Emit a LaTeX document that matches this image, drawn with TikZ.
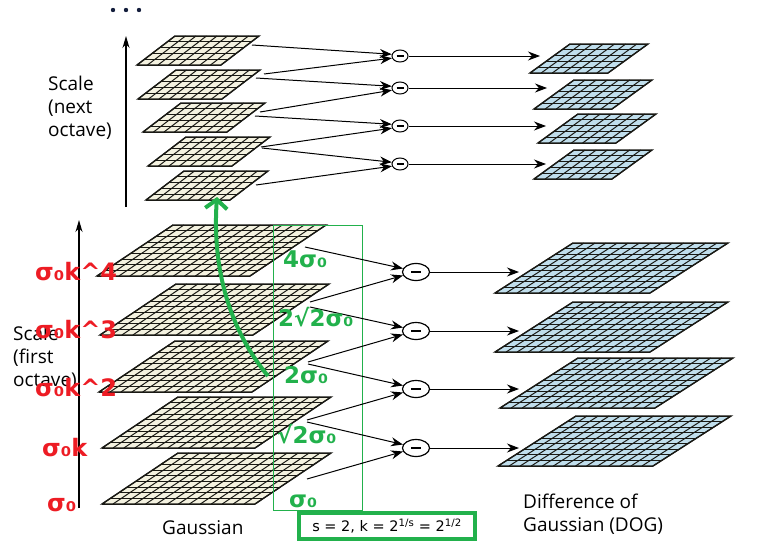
\documentclass[tikz,border=0pt]{standalone}
\usepackage{fontspec}
\setmainfont{Open Sans}
\newfontfamily\markfont{DejaVu Sans}
\usetikzlibrary{arrows.meta,shapes.geometric}
\definecolor{gaussfill}{RGB}{244,242,224}
\definecolor{dogfill}{RGB}{192,222,236}
\definecolor{gridline}{RGB}{25,25,20}
\definecolor{markgreen}{RGB}{34,177,76}
\definecolor{markred}{RGB}{237,28,36}
\definecolor{dotblue}{RGB}{20,30,60}
\tikzset{
  >=Stealth,
  txt/.style    ={font=\fontsize{19}{23}\selectfont, align=left, inner sep=0pt},
  sub/.style    ={draw, ellipse, line width=1.2pt, minimum width=27pt, minimum height=17pt, inner sep=0pt, fill=white},
  subs/.style   ={draw, ellipse, line width=1pt, minimum width=16pt, minimum height=12pt, inner sep=0pt, fill=white},
  arr/.style    ={-{Stealth[length=12pt,width=9pt]}, line width=1pt},
  axis/.style   ={-{Stealth[length=12pt,width=7pt]}, line width=1.4pt},
  redlbl/.style ={font=\markfont\bfseries\fontsize{24}{24}\selectfont, text=markred, inner sep=0pt, anchor=base west},
  grnlbl/.style ={font=\markfont\bfseries\fontsize{23}{23}\selectfont, text=markgreen, inner sep=0pt, anchor=base west},
  hint/.style   ={-{Straight Barb[length=9pt,width=22pt]}, markgreen, line width=4pt},
}
% #1,#2 lower left corner, #3 width, #4 slant, #5 height, #6 columns, #7 rows, #8 fill
\newcommand{\gridplane}[8]{%
  \begin{scope}[shift={(#1,#2)}, x={({#3pt/#6},0pt)}, y={({#4pt/#7},{#5pt/#7})}]
    \fill[#8] (0,0) -- (#6,0) -- (#6,#7) -- (0,#7) -- cycle;
    \foreach \i in {0,...,#6} \draw[gridline, line width=1pt] (\i,0) -- (\i,#7);
    \foreach \j in {0,...,#7} \draw[gridline, line width=1pt] (0,\j) -- (#6,\j);
    \draw[gridline, line width=1.4pt] (0,0) -- (#6,0) -- (#6,#7) -- (0,#7) -- cycle;
  \end{scope}}

\begin{document}
\begin{tikzpicture}[x=1pt, y=-1pt]
  \useasboundingbox (0,0) rectangle (762,541);
  % next octave
  \foreach \x/\y in {137/65, 138/99, 143/132, 148/166, 146/200}
    \gridplane{\x}{\y}{84}{38}{29}{8}{5}{gaussfill};
  \foreach \x/\y in {530/73, 534/109, 538/143, 534/179}
    \gridplane{\x}{\y}{78}{40}{29}{7}{5}{dogfill};
  % first octave
  \foreach \x/\y in {97/276, 100/335, 99/392, 102/448, 102/504}
    \gridplane{\x}{\y}{153}{76}{51}{14}{9}{gaussfill};
  \foreach \x/\y in {495/293, 495/352, 500/408, 498/466}
    \gridplane{\x}{\y}{155}{78}{50}{14}{9}{dogfill};

  % scale axes
  \coordinate (ta0) at (126,207); \coordinate (ta1) at (126,36);
  \coordinate (ba0) at (79,508);  \coordinate (ba1) at (79,220);
  \draw[axis] (ta0) -- (ta1);
  \draw[axis] (ba0) -- (ba1);
  \foreach \x in {113,126,139} \fill[dotblue] (\x,10) circle (2.2);

  % sigma column
  \node[draw=markgreen, line width=1pt, minimum width=89pt, minimum height=285pt, inner sep=0pt] (sbox) at (317.5,367.5) {};

  % subtractions
  \foreach \y/\n in {56/1, 88/2, 126/3, 164/4}
    \node[subs] (t\n) at (400,\y) {\rule{7pt}{2pt}};
  \foreach \y/\n in {272/1, 331/2, 389/3, 448/4}
    \node[sub] (b\n) at (416,\y) {\rule{10pt}{2.6pt}};

  \foreach \sx/\sy/\c/\a [count=\k] in {252/45/t1/168, 264/74/t1/195, 256/78/t2/168, 260/112/t2/195,
                                         255/116/t3/168, 261/147/t3/195, 262/148/t4/168, 256/185/t4/195} {
    \coordinate (tp\k) at (\sx,\sy);
    \draw[arr] (tp\k) -- (\c.\a);
  }
  \foreach \sx/\sy/\c/\a [count=\k] in {305/247/b1/165, 310/302/b1/195, 310/307/b2/165, 308/362/b2/195,
                                         308/364/b3/165, 307/420/b3/195, 307/422/b4/165, 307/479/b4/195} {
    \coordinate (bp\k) at (\sx,\sy);
    \draw[arr] (bp\k) -- (\c.\a);
  }
  \foreach \x/\n in {540/1, 547/2, 546/3, 546/4} {
    \coordinate (td\n) at (\x,0 |- t\n);
    \draw[arr] (t\n) -- (td\n);
  }
  \foreach \n in {1,...,4} {
    \coordinate (bd\n) at (519,0 |- b\n);
    \draw[arr] (b\n) -- (bd\n);
  }

  % texts
  \node[txt, anchor=west] (nxt) at (48,108) {Scale\\(next\\octave)};
  \node[txt, anchor=west] (fst) at (13,358) {Scale\\(first\\octave)};
  \node[txt, anchor=base west] (gs) at (162,534) {Gaussian};
  \node[txt, anchor=base west] (dog) at (523,531) {Difference of\\Gaussian (DOG)};

  \node[redlbl] (r4) at (35,280) {σ₀k\textasciicircum 4};
  \node[redlbl] (r3) at (35,338) {σ₀k\textasciicircum 3};
  \node[redlbl] (r2) at (35,396) {σ₀k\textasciicircum 2};
  \node[redlbl] (r1) at (42,456) {σ₀k};
  \node[redlbl] (r0) at (47,511) {σ₀};

  \node[grnlbl] (g4) at (283,267) {4σ₀};
  \node[grnlbl] (g3) at (278,326) {2√2σ₀};
  \node[grnlbl] (g2) at (284,383) {2σ₀};
  \node[grnlbl] (g1) at (277,443) {√2σ₀};
  \node[grnlbl] (g0) at (289,507) {σ₀};

  % octave step
  \coordinate (hs) at (268,376); \coordinate (he) at (217,197);
  \draw[hint] (hs) .. controls (230,330) and (212,270) .. (he);

  \node[draw=markgreen, line width=4pt, fill=white, minimum width=176pt, minimum height=26pt, inner sep=0pt,
        font=\markfont\fontsize{14.5}{14.5}\selectfont] (kbox) at (387,526)
        {s = 2, k = 2\textsuperscript{1/s} = 2\textsuperscript{1/2}};
\end{tikzpicture}
\end{document}
